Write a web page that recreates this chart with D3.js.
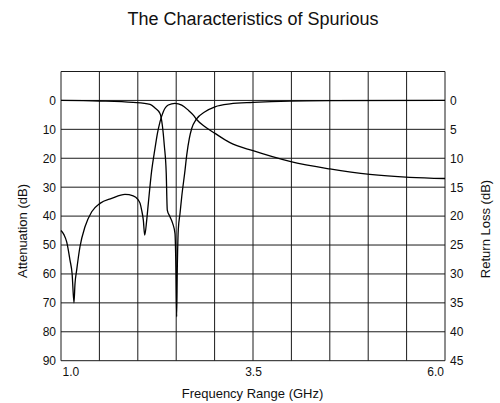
<!DOCTYPE html>
<html>
<head>
<meta charset="utf-8">
<script src="https://cdn.jsdelivr.net/npm/d3@7"></script>
<style>
  html, body { margin: 0; padding: 0; background: #fff; }
  svg { display: block; font-family: "Liberation Sans", Arial, Helvetica, sans-serif; }
</style>
</head>
<body>
<svg id="chart" width="500" height="403"></svg>
<script>
// ---- data ----
const title = "The Characteristics of Spurious";
const xTitle = "Frequency Range (GHz)";
const yLeftTitle = "Attenuation (dB)";
const yRightTitle = "Return Loss (dB)";

const gridFreqs = [1.0, 1.5, 2.0, 2.5, 3.0, 3.5, 4.0, 4.5, 5.0, 5.5, 6.0];
const xTickLabels = [1.0, 3.5, 6.0];
const attTicks = [0, 10, 20, 30, 40, 50, 60, 70, 80, 90];
const rlTicks = [0, 5, 10, 15, 20, 25, 30, 35, 40, 45];

// Attenuation curve (left axis, dB)
const attFreq = [1.0, 1.04, 1.074, 1.117, 1.145, 1.169, 1.182, 1.204, 1.247, 1.3125, 1.40, 1.508, 1.66, 1.833, 1.94, 2.0, 2.03, 2.05, 2.072, 2.09, 2.116, 2.137, 2.181, 2.224, 2.255, 2.289, 2.332, 2.397, 2.484, 2.572, 2.658, 2.723, 2.763, 2.875, 3.005, 3.2, 3.5, 3.98, 4.5, 5.02, 5.54, 6.0];
const attValues = [45, 46.5, 48.9, 55.2, 60, 70.0, 63.5, 58.7, 50.6, 43.7, 38.5, 35.6, 33.9, 32.5, 33.0, 34.2, 35.6, 37.9, 41.4, 46.6, 41.4, 35.6, 24.2, 16.6, 11.5, 7.4, 3.9, 1.6, 1.0, 1.6, 3.4, 5.1, 6.5, 9.1, 11.4, 14.6, 17.4, 21.1, 23.7, 25.6, 26.6, 27.0];

// Return loss curve (right axis, dB)
const rlFreq = [1.0, 1.5, 1.94, 2.16, 2.224, 2.289, 2.319, 2.345, 2.37, 2.384, 2.419, 2.454, 2.484, 2.497, 2.506, 2.514, 2.527, 2.55, 2.572, 2.615, 2.637, 2.671, 2.702, 2.763, 2.875, 3.005, 3.2, 3.5, 3.98, 4.5, 6.0];
const rlValues = [0, 0.1, 0.35, 0.7, 1.3, 2.25, 4.25, 7.75, 12.5, 18.95, 20.1, 21.25, 23.0, 29.35, 37.4, 29.35, 22.4, 19.5, 16.65, 12.05, 9.45, 6.55, 4.85, 3.25, 1.95, 1.1, 0.6, 0.35, 0.12, 0.05, 0];

// ---- layout ----
const plotLeft = 61, plotRight = 445, plotTop = 71.5, plotBottom = 360.7;
const svg = d3.select("#chart");
const x = d3.scaleLinear().domain([1, 6]).range([plotLeft, plotRight]);
const yL = d3.scaleLinear().domain([-10, 90]).range([plotTop, plotBottom]);
const yR = d3.scaleLinear().domain([-5, 45]).range([plotTop, plotBottom]);

const gridColor = "#1a1a1a";

// grid
const grid = svg.append("g");
grid.selectAll("line.v").data(gridFreqs).join("line").attr("class", "v")
  .attr("x1", d => x(d)).attr("x2", d => x(d))
  .attr("y1", plotTop).attr("y2", plotBottom)
  .attr("stroke", gridColor).attr("stroke-width", 1);
grid.selectAll("line.h").data([-10].concat(attTicks)).join("line").attr("class", "h")
  .attr("x1", plotLeft).attr("x2", plotRight)
  .attr("y1", d => yL(d)).attr("y2", d => yL(d))
  .attr("stroke", gridColor).attr("stroke-width", 1);

// axes
const gl = svg.append("g").attr("transform", `translate(${plotLeft},0)`)
  .call(d3.axisLeft(yL).tickValues(attTicks).tickSize(0).tickPadding(5));
const gr = svg.append("g").attr("transform", `translate(${plotRight},0)`)
  .call(d3.axisRight(yR).tickValues(rlTicks).tickSize(0).tickPadding(5));
const gb = svg.append("g").attr("transform", `translate(0,${plotBottom})`)
  .call(d3.axisBottom(x).tickValues(xTickLabels).tickFormat(d3.format(".1f")).tickSize(0).tickPadding(7));
[gl, gr, gb].forEach(g => {
  g.select(".domain").remove();
  g.selectAll("text").attr("font-size", 12).attr("fill", "#111")
    .attr("font-family", '"Liberation Sans", Arial, sans-serif');
});
gb.selectAll(".tick text")
  .attr("text-anchor", (d, i) => i === 0 ? "start" : (i === xTickLabels.length - 1 ? "end" : "middle"))
  .attr("dx", (d, i) => i === 0 ? 1 : (i === xTickLabels.length - 1 ? -1.5 : 0));

// curves
const lineAtt = d3.line().x((d, i) => x(attFreq[i])).y(d => yL(d)).curve(d3.curveMonotoneX);
const lineRL = d3.line().x((d, i) => x(rlFreq[i])).y(d => yR(d)).curve(d3.curveMonotoneX);
svg.append("path").attr("d", lineAtt(attValues))
  .attr("fill", "none").attr("stroke", "#000").attr("stroke-width", 1.3);
svg.append("path").attr("d", lineRL(rlValues))
  .attr("fill", "none").attr("stroke", "#000").attr("stroke-width", 1.3);

// titles
svg.append("text").attr("x", 253).attr("y", 25).attr("text-anchor", "middle")
  .attr("font-size", 18).attr("fill", "#111").text(title);
svg.append("text").attr("x", 252.5).attr("y", 398).attr("text-anchor", "middle")
  .attr("font-size", 13).attr("fill", "#111").text(xTitle);
svg.append("text").attr("transform", "translate(27,231) rotate(-90)").attr("text-anchor", "middle")
  .attr("font-size", 13).attr("fill", "#111").text(yLeftTitle);
svg.append("text").attr("transform", "translate(490,229) rotate(-90)").attr("text-anchor", "middle")
  .attr("font-size", 13).attr("fill", "#111").text(yRightTitle);
</script>
</body>
</html>
